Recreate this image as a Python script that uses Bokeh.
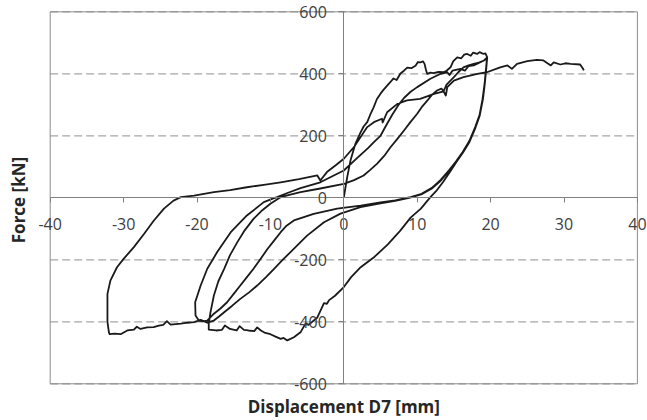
import math
from bokeh.plotting import figure
from bokeh.models import Range1d, FixedTicker, Label
from bokeh.embed import file_html
from bokeh.resources import INLINE

# ---------------- data ----------------
x_ticks = [-40, -30, -20, -10, 0, 10, 20, 30, 40]
y_ticks = [-600, -400, -200, 0, 200, 400, 600]

# 1. virgin loading to the positive side
virgin_pos_x = [0, 0.2, 0.46, 0.91, 1.59, 2.27, 2.7, 3.19, 3.6, 4.05, 4.5, 5.0, 5.4, 5.91, 6.3, 6.77, 7.2, 7.72,
                8.2, 8.64, 9.2, 9.77, 10.1, 10.45, 10.8, 11.0, 11.2, 11.36, 11.8, 12.22, 12.9, 13.58, 14.0, 14.54,
                14.9, 15.45, 16.0, 16.4, 16.81, 17.3, 17.6, 18.17, 18.5, 19.03, 19.3, 19.54]
virgin_pos_y = [0, 30, 66, 120, 175, 210, 230, 244, 268, 291, 318, 336, 348, 362, 372, 385, 380, 401,
                410, 420, 418, 426, 438, 437, 440, 432, 412, 400, 404, 402, 406, 405, 410, 421,
                440, 453, 450, 462, 464, 458, 468, 464, 470, 464, 466, 453]

# 2. first unloading and virgin loading to the negative side
unload1_x = [19.42, 19.22, 18.97, 18.52, 17.92, 17.12, 16.22, 15.32, 14.5, 13.5, 12.6, 11.8, 10.5, 9.1, 7.7,
             6.0, 4.2, 2.3, 1.0, 0.0, -1.2, -2.0, -2.3, -2.7, -3.6, -4.8, -5.2, -5.9, -6.8, -7.7, -8.2, -8.6]
unload1_y = [420, 370, 320, 265, 225, 180, 145, 115, 85, 50, 22, 2, -35, -64, -106,
             -150, -190, -224, -256, -288, -316, -330, -342, -340, -386, -410, -405, -434, -450, -460, -452, -455]
plateau1_x = [-9.3, -10.0, -10.7, -11.3, -11.8, -12.2, -13.0, -13.6, -14.2, -14.6, -15.5, -16.2, -16.6, -17.4, -18.4]
plateau1_y = [-448, -440, -436, -428, -418, -430, -428, -426, -414, -428, -423, -412, -426, -428, -425]

# 3. unloading from the first negative peak and reloading
unload2_x = [-18.4, -18.16, -17.7, -17.1, -16.3, -15.5, -14.5, -13.5, -12.3, -11.1, -10.0, -9.0]
unload2_y = [-406, -369, -315, -270, -229, -185, -143, -105, -68, -40, -19, -4]
reload1_x = [-8.6, -7.3, -5.9, -3.2, 0, 1.4, 2.7, 3.6, 4.55, 5.5, 6.36, 7.3, 8.2, 9.1, 10.0, 10.7, 11.4, 12.0,
             12.7, 13.3, 13.6, 14.0, 15.0, 15.6, 16.3, 17.0, 17.7, 18.4, 19.1, 19.5]
reload1_y = [2, 10, 18, 30, 45, 57, 72, 90, 110, 135, 163, 190, 217, 245, 271, 295, 314, 332,
             346, 352, 344, 365, 389, 405, 421, 427, 432, 436, 443, 452]

# 4. second cycle
unload3_x = [19.4, 19.2, 18.95, 18.5, 17.9, 17.1, 16.2, 15.3, 14.3, 13.2, 12.0, 10.6, 8.9]
unload3_y = [420, 372, 322, 268, 228, 183, 148, 118, 88, 58, 32, 13, 1]
neg2_x = [7.0, 5.0, 2.3, -0.9, -4.1, -6.8, -7.8, -8.6, -9.5, -10.4, -11.3, -12.3, -13.2, -14.1, -15.0, -15.9,
          -16.8, -17.7, -18.6, -19.2, -19.75]
neg2_y = [-8, -15, -25, -35, -52, -73, -90, -111, -138, -165, -196, -229, -256, -283, -310, -337,
          -357, -374, -396, -399, -396]
unload4_x = [-20.2, -20.25, -19.5, -18.6, -17.25, -15.4, -13.2, -10.9, -9.6]
unload4_y = [-380, -337, -283, -229, -175, -111, -57, -14, -2]
reload2_x = [-9.1, -7.5, -5.9, -3.2, 0, 1.8, 3.3, 4.2, 5.0, 5.8, 6.6, 7.4, 8.2, 9.1, 10.0, 11.8, 13.2, 14.1,
             14.4, 14.8, 15.9, 16.5, 17.0, 17.7, 18.4, 19.1, 19.5]
reload2_y = [2, 17, 31, 50, 88, 128, 160, 182, 200, 235, 268, 298, 322, 342, 357, 384, 400, 405,
             396, 410, 416, 410, 425, 427, 435, 443, 450]

# 5. third cycle, excursion to -32 mm and final push to +32 mm
unload5_x = [19.38, 19.18, 18.9, 18.45, 17.85, 17.05, 16.15, 15.25, 14.25, 13.15, 11.95, 10.55, 8.9]
unload5_y = [418, 368, 318, 262, 222, 178, 143, 113, 84, 54, 29, 11, 0]
neg3_x = [7.0, 5.0, 2.27, -0.45, -2.7, -5.0, -6.1, -7.26, -8.4, -9.5, -10.6, -11.8, -12.9, -14.1, -15.2,
          -16.3, -17.0, -17.7, -18.6]
neg3_y = [-10, -18, -30, -51, -79, -122, -148, -175, -202, -229, -256, -283, -305, -326, -348,
          -369, -383, -396, -403]
plateau3_x = [-19.5, -20.4, -21.3, -22.2, -23.6, -24.1, -24.6, -25.2, -25.9, -26.8, -27.7, -28.2, -28.6,
              -29.5, -30.4, -31.2, -31.9]
plateau3_y = [-394, -401, -403, -406, -409, -398, -410, -412, -417, -418, -423, -416, -425,
              -428, -440, -438, -440]
unload6_x = [-32.0, -32.2, -32.2, -32.2, -31.8, -30.9, -30.0, -28.6, -27.2, -25.9, -24.5, -23.2, -22.2, -20.4]
unload6_y = [-434, -400, -374, -310, -267, -224, -197, -159, -116, -74, -35, -9, 2, 7]
final_x = [-17.7, -15.5, -13.2, -10.9, -8.6, -6.1, -3.6, -3.2, -2.3, -1.1, 0, 1.36, 2.27, 3.19, 4.1, 5.2, 5.3,
           5.9, 7.3, 8.6, 10.4, 12.3, 13.6, 13.9, 14.1, 15.0, 16.3, 18.2, 19.5, 21.3, 22.3, 22.9, 23.6, 25.0,
           26.3, 27.2, 28.2, 28.6, 29.5, 30.2, 30.9, 32.2, 32.6, 32.7]
final_y = [18, 25, 34, 42, 50, 60, 72, 56, 83, 105, 126, 163, 195, 228, 244, 255, 243,
           276, 303, 314, 319, 335, 343, 330, 357, 378, 389, 400, 405, 421, 427, 416, 432, 441,
           445, 443, 427, 437, 430, 434, 432, 430, 416, 411]

branches_x = [virgin_pos_x, unload1_x, plateau1_x, unload2_x, reload1_x, unload3_x, neg2_x, unload4_x,
              reload2_x, unload5_x, neg3_x, plateau3_x, unload6_x, final_x]
branches_y = [virgin_pos_y, unload1_y, plateau1_y, unload2_y, reload1_y, unload3_y, neg2_y, unload4_y,
              reload2_y, unload5_y, neg3_y, plateau3_y, unload6_y, final_y]

path_x = [v for b in branches_x for v in b]
path_y = [v for b in branches_y for v in b]

x_title = "Displacement D7 [mm]"
y_title = "Force  [kN]"

# ---------------- layout ----------------
W, H = 647, 420
# plot area of the chart (in canvas pixels): left, right, top, bottom
PL, PR, PT, PB = 49.7, 636.9, 11.3, 383.3
xmin, xmax = x_ticks[0], x_ticks[-1]
ymin, ymax = y_ticks[0], y_ticks[-1]
sx = (PR - PL) / (xmax - xmin)
sy = (PB - PT) / (ymax - ymin)
# the Bokeh frame covers the whole canvas so that tick labels and titles are never clipped
x_range = Range1d(xmin - PL / sx, xmax + (W - PR) / sx)
y_range = Range1d(ymin - (H - PB) / sy, ymax + PT / sy)

FONT = "Open Sans"
TICK_COLOR = "#404040"

p = figure(width=W, height=H, x_range=x_range, y_range=y_range,
           output_backend="svg", toolbar_location=None,
           min_border_left=0, min_border_right=0, min_border_top=0, min_border_bottom=0)
p.outline_line_color = None
p.xgrid.visible = False
p.ygrid.visible = False

# dashed horizontal gridlines limited to the plot area
grid_vals = [v for v in y_ticks if v != 0]
p.segment(x0=[xmin] * len(grid_vals), x1=[xmax] * len(grid_vals), y0=grid_vals, y1=grid_vals,
          line_color="#a6a6a6", line_dash="8 4", line_width=1.2)
# plot-area border
p.quad(left=[xmin], right=[xmax], bottom=[ymin], top=[ymax], fill_color=None,
       line_color="#8c8c8c", line_width=1)

for ax, ticks, bnds in ((p.xaxis, x_ticks, (xmin, xmax)), (p.yaxis, y_ticks, (ymin, ymax))):
    ax.fixed_location = 0
    ax.bounds = bnds
    ax.ticker = FixedTicker(ticks=ticks)
    ax.major_label_overrides = {t: str(t) for t in ticks}
    ax.minor_tick_line_color = None
    ax.major_tick_in = 0
    ax.major_tick_out = 5
    ax.major_label_text_font = FONT
    ax.major_label_text_font_size = "16px"
    ax.major_label_text_color = TICK_COLOR
    ax.axis_line_color = "#808080"
    ax.major_tick_line_color = "#808080"

p.xaxis.major_label_standoff = 15
p.yaxis.major_label_standoff = 12

p.line(path_x, path_y, line_color="#1a1a1a", line_width=1.8, line_join="round")

p.add_layout(Label(x=0, y=ymin, y_offset=-22.7, text=x_title, text_align="center",
                   text_baseline="middle", text_font=FONT, text_font_style="bold",
                   text_font_size="17px", text_color="#262626"))
p.add_layout(Label(x=xmin, y=0, x_offset=-31.7, angle=math.pi / 2, text=y_title, text_align="center",
                   text_baseline="middle", text_font=FONT, text_font_style="bold",
                   text_font_size="17px", text_color="#262626"))

open("out.html", "w").write(file_html(p, INLINE))
